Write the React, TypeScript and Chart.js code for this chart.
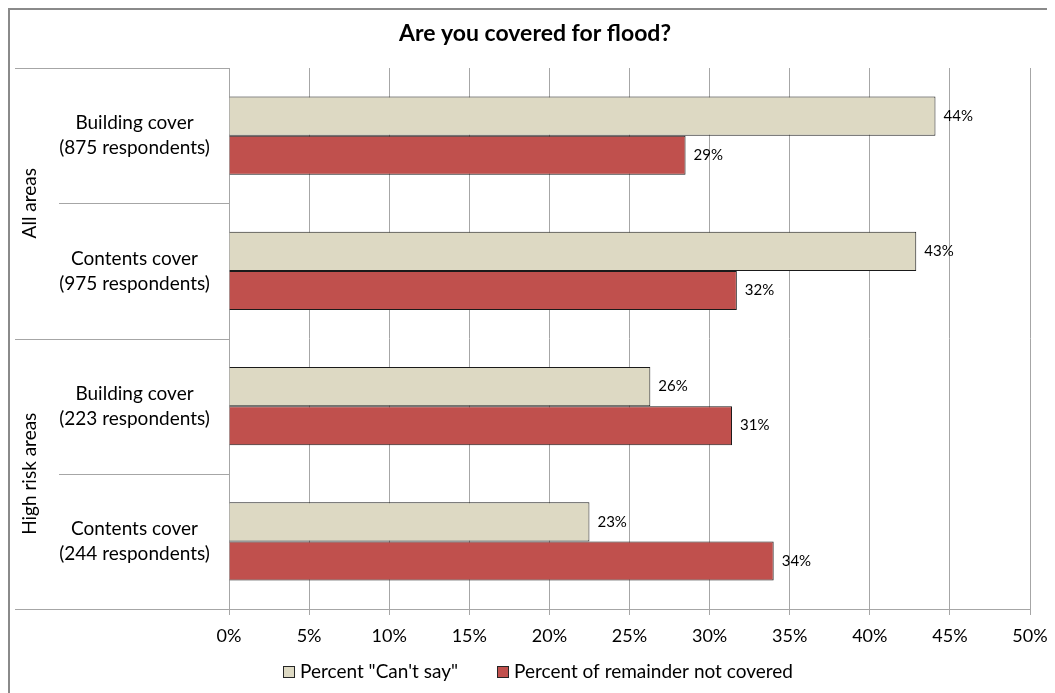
import React, { useEffect, useRef } from "react";
import { Chart, registerables } from "chart.js";

Chart.register(...registerables);

const chartTitle = "Are you covered for flood?";
const groupNames = ["All areas", "High risk areas"];
const categoryTitles = ["Building cover", "Contents cover", "Building cover", "Contents cover"];
const categoryRespondents = ["(875 respondents)", "(975 respondents)", "(223 respondents)", "(244 respondents)"];
const seriesNames = ['Percent "Can\'t say"', "Percent of remainder not covered"];
const cantSay = [44.1, 42.9, 26.3, 22.5];
const notCovered = [28.5, 31.7, 31.4, 34.0];
const xTickStep = 5;
const xMax = 50;

const FONT = "Lato, 'Noto Sans', sans-serif";
const COLORS = ["#DDD9C3", "#C0504D"];
const GRID = "#a6a6a6";
const CENTER_X = 527;

export default function App() {
  const ref = useRef<HTMLCanvasElement>(null);

  useEffect(() => {
    const canvas = ref.current;
    if (!canvas) return;

    const custom = {
      id: "customDecor",
      afterDraw(chart: any) {
        const ctx = chart.ctx as CanvasRenderingContext2D;
        const area = chart.chartArea;
        const ys = chart.scales.y;
        const n = categoryTitles.length;
        ctx.save();

        // outer border (left & top only; the rest is beyond the view)
        ctx.fillStyle = "#8a8a8a";
        ctx.fillRect(0, 0, 2, chart.height);
        ctx.fillRect(0, 0, chart.width, 2);

        // title
        ctx.fillStyle = "#000";
        ctx.textAlign = "center";
        ctx.textBaseline = "middle";
        ctx.font = `bold 23px ${FONT}`;
        ctx.fillText(chartTitle, CENTER_X, 26);

        // separators in the category label area
        ctx.strokeStyle = GRID;
        ctx.lineWidth = 1;
        for (let i = 0; i <= n; i++) {
          const y = Math.round(ys.getPixelForValue(i - 0.5)) + 0.5;
          const x0 = i % 2 === 0 ? 7 : 51;
          ctx.beginPath();
          ctx.moveTo(x0, y);
          ctx.lineTo(area.left, y);
          ctx.stroke();
        }

        // category labels
        ctx.font = `19px ${FONT}`;
        for (let i = 0; i < n; i++) {
          const yc = ys.getPixelForValue(i);
          ctx.fillText(categoryTitles[i], 126.5, yc - 12.5);
          ctx.fillText(categoryRespondents[i], 126.5, yc + 12.5);
        }

        // group labels (rotated)
        for (let g = 0; g < groupNames.length; g++) {
          const yc = ys.getPixelForValue(g * 2 + 0.5);
          ctx.save();
          ctx.translate(22, yc);
          ctx.rotate(-Math.PI / 2);
          ctx.fillText(groupNames[g], 0, 0);
          ctx.restore();
        }

        // data labels
        ctx.textAlign = "left";
        ctx.font = `15px ${FONT}`;
        chart.data.datasets.forEach((ds: any, di: number) => {
          const meta = chart.getDatasetMeta(di);
          meta.data.forEach((el: any, j: number) => {
            const v = ds.data[j] as number;
            ctx.fillText(Math.round(v) + "%", el.x + 8, el.y);
          });
        });

        // legend
        ctx.font = `19px ${FONT}`;
        const box = 12;
        const gap = 5;
        const spacing = 39;
        const w1 = ctx.measureText(seriesNames[0]).width;
        const w2 = ctx.measureText(seriesNames[1]).width;
        const total = box + gap + w1 + spacing + box + gap + w2;
        let x = 530 - total / 2;
        const ly = 664;
        seriesNames.forEach((name, i) => {
          ctx.fillStyle = COLORS[i];
          ctx.fillRect(x, ly - box / 2, box, box);
          ctx.strokeStyle = "#262626";
          ctx.lineWidth = 1;
          ctx.strokeRect(Math.round(x) + 0.5, Math.round(ly - box / 2) + 0.5, box - 1, box - 1);
          ctx.fillStyle = "#000";
          ctx.fillText(name, x + box + gap, ly);
          x += box + gap + (i === 0 ? w1 : w2) + spacing;
        });

        ctx.restore();
      },
    };

    const chart = new Chart(canvas, {
      type: "bar",
      data: {
        labels: categoryTitles,
        datasets: [
          {
            label: seriesNames[0],
            data: cantSay,
            backgroundColor: COLORS[0],
            borderColor: "#1a1a1a",
            borderWidth: 1,
            categoryPercentage: 0.577,
            barPercentage: 1,
          },
          {
            label: seriesNames[1],
            data: notCovered,
            backgroundColor: COLORS[1],
            borderColor: "#1a1a1a",
            borderWidth: 1,
            categoryPercentage: 0.577,
            barPercentage: 1,
          },
        ],
      },
      options: {
        indexAxis: "y",
        responsive: false,
        animation: false,
        layout: { padding: { top: 60, left: 0, right: 25, bottom: 44 } },
        scales: {
          x: {
            min: 0,
            max: xMax,
            ticks: {
              stepSize: xTickStep,
              callback: (v: any) => v + "%",
              font: { family: FONT, size: 18 },
              color: "#000",
              padding: 10,
              maxRotation: 0,
            },
            grid: { color: GRID, tickLength: 6, tickColor: GRID },
            border: { color: GRID },
            afterFit: (s: any) => {
              s.height = 40;
              s.paddingLeft = 0;
              s.paddingRight = 0;
            },
          },
          y: {
            ticks: { display: false },
            grid: { display: false },
            border: { display: true, color: GRID },
            afterFit: (s: any) => {
              s.width = 221;
              s.paddingTop = 0;
              s.paddingBottom = 0;
            },
          },
        },
        plugins: {
          legend: { display: false },
          tooltip: { enabled: false },
          title: { display: false },
        },
      },
      plugins: [custom],
    });

    return () => chart.destroy();
  }, []);

  return (
    <>
      <style>{"html,body{overflow:hidden;}"}</style>
      <canvas ref={ref} width={1047} height={685} style={{ display: "block" }} />
    </>
  );
}
